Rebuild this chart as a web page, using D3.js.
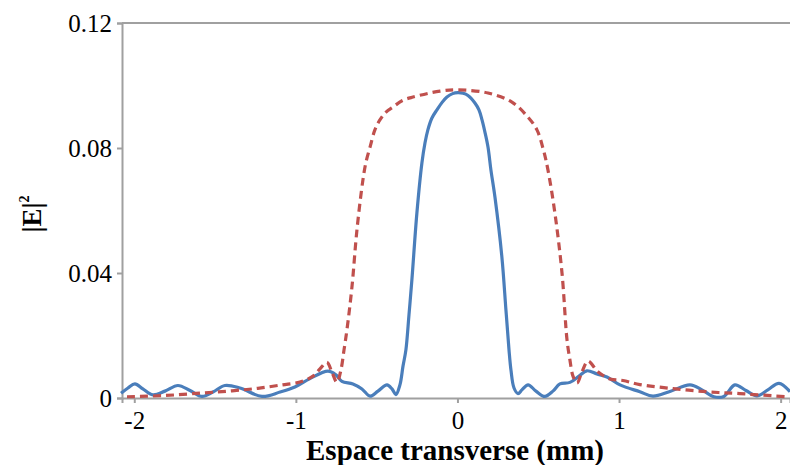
<!DOCTYPE html>
<html>
<head>
<meta charset="utf-8">
<script src="https://cdn.jsdelivr.net/npm/d3@7/dist/d3.min.js"></script>
<style>
  html, body { margin: 0; padding: 0; background: #fff; }
  svg { display: block; }
  text { font-family: "Liberation Serif", "Times New Roman", serif; fill: #000; }
</style>
</head>
<body>
<svg id="chart" width="790" height="465"></svg>
<script>
// ---- data ----
const xTicks = [-2, -1, 0, 1, 2];
const yTicks = [0, 0.04, 0.08, 0.12];
const yTickLabels = ["0", "0.04", "0.08", "0.12"];

// solid blue series: [x (mm), |E|^2]
const blueX = [-2.082, -2.039, -1.996, -1.947, -1.885, -1.810, -1.730, -1.655, -1.581, -1.513,
  -1.439, -1.346, -1.210, -1.098, -1.006, -0.913, -0.801, -0.752, -0.715, -0.647,
  -0.591, -0.541, -0.492, -0.436, -0.405, -0.381, -0.356, -0.337, -0.319, -0.300,
  -0.282, -0.251, -0.220, -0.201, -0.183, -0.158, -0.127, -0.095, -0.065, -0.030, 0.003,
  0.035, 0.065, 0.108, 0.133, 0.152, 0.170,
  0.189, 0.207, 0.232, 0.275, 0.300, 0.319, 0.331, 0.350, 0.375, 0.399, 0.437,
  0.486, 0.541, 0.591, 0.634, 0.696, 0.752, 0.801, 0.863, 0.925, 1.006,
  1.129, 1.210, 1.315, 1.439, 1.513, 1.587, 1.649, 1.717, 1.785, 1.853,
  1.921, 1.990, 2.058];
const blueY = [0.0015, 0.0032, 0.0045, 0.0029, 0.0010, 0.0022, 0.0040, 0.0024, 0.0005, 0.0019,
  0.0040, 0.0032, 0.0005, 0.0019, 0.0035, 0.0062, 0.0086, 0.0074, 0.0053, 0.0045,
  0.0029, 0.0006, 0.0022, 0.0042, 0.0029, 0.0011, 0.0042, 0.0102, 0.0154, 0.0266,
  0.0378, 0.0592, 0.0752, 0.0816, 0.0858, 0.0896, 0.0922, 0.0946, 0.0963, 0.0974, 0.0977,
  0.0975, 0.0968, 0.0944, 0.0922, 0.0890, 0.0851,
  0.0803, 0.0730, 0.0643, 0.0451, 0.0282, 0.0154, 0.0090, 0.0032, 0.0014, 0.0026, 0.0042,
  0.0022, 0.0005, 0.0022, 0.0045, 0.0050, 0.0070, 0.0087, 0.0077, 0.0067, 0.0042,
  0.0020, 0.0006, 0.0021, 0.0042, 0.0026, 0.0004, 0.0005, 0.0042, 0.0024, 0.0007,
  0.0026, 0.0047, 0.0020];

// dashed red series
const redX = [-2.045, -1.810, -1.581, -1.395, -1.235, -1.086, -0.975, -0.894, -0.851, -0.808,
  -0.777, -0.746, -0.721, -0.702, -0.684, -0.653, -0.622, -0.585, -0.566, -0.541, -0.511,
  -0.480, -0.442, -0.399, -0.340, -0.275, -0.108, 0.003, 0.189, 0.337, 0.436, 0.492, 0.532,
  0.560, 0.603, 0.647, 0.678, 0.696, 0.715, 0.740, 0.770, 0.808, 0.869, 0.944, 1.024,
  1.129, 1.334, 1.544, 1.748, 2.039];
const redY = [0.0004, 0.0008, 0.0016, 0.0023, 0.0031, 0.0042, 0.0051, 0.0070, 0.0093, 0.0114,
  0.0083, 0.0050, 0.0090, 0.0154, 0.0218, 0.0355, 0.0538, 0.0698, 0.0755, 0.0803, 0.0858,
  0.0890, 0.0915, 0.0931, 0.0952, 0.0963, 0.0982, 0.0986, 0.0976, 0.0947, 0.0899, 0.0858, 0.0794,
  0.0730, 0.0592, 0.0400, 0.0186, 0.0122, 0.0070, 0.0048, 0.0083, 0.0118, 0.0084, 0.0061, 0.0056,
  0.0043, 0.0030, 0.0020, 0.0014, 0.0004];

const xTitle = "Espace transverse (mm)";

// ---- layout ----
const svg = d3.select("#chart");
const mLeft = 122, mRight = 790, mTop = 23, mBottom = 398;
const x = d3.scaleLinear().domain([-2.076, 2.058]).range([mLeft, mRight]);
const y = d3.scaleLinear().domain([0, 0.12]).range([mBottom, mTop]);
const axisColor = "#a0a0a0";

// top border line
svg.append("line")
  .attr("x1", mLeft).attr("x2", mRight).attr("y1", y(0.12)).attr("y2", y(0.12))
  .attr("stroke", axisColor).attr("stroke-width", 2);

// y axis
const yAxis = svg.append("g").attr("transform", `translate(${mLeft},0)`)
  .call(d3.axisLeft(y).tickValues(yTicks).tickSize(5).tickPadding(5)
    .tickFormat((d, i) => yTickLabels[i]));
yAxis.select(".domain").attr("stroke", axisColor).attr("stroke-width", 2);
yAxis.selectAll(".tick line").attr("stroke", axisColor).attr("stroke-width", 2);
yAxis.selectAll(".tick text").attr("font-size", 25).attr("font-family", "Liberation Serif").attr("fill", "#000");

// x axis
const xAxis = svg.append("g").attr("transform", `translate(0,${mBottom})`)
  .call(d3.axisBottom(x).tickValues(xTicks).tickSize(5).tickPadding(8)
    .tickFormat(d => d < 0 ? "-" + Math.abs(d) : String(d)));
xAxis.select(".domain").attr("stroke", axisColor).attr("stroke-width", 2);
xAxis.selectAll(".tick line").attr("stroke", axisColor).attr("stroke-width", 2);
xAxis.selectAll(".tick text").attr("font-size", 25).attr("font-family", "Liberation Serif").attr("fill", "#000");

// lines
const lineGen = d3.line().x(d => x(d[0])).y(d => y(d[1])).curve(d3.curveCatmullRom.alpha(0.5));
const plot = svg.append("g");
plot.append("path")
  .datum(blueX.map((v, i) => [v, blueY[i]]))
  .attr("d", lineGen).attr("fill", "none")
  .attr("stroke", "#4a7ebb").attr("stroke-width", 3.2).attr("stroke-linejoin", "round");
plot.append("path")
  .datum(redX.map((v, i) => [v, redY[i]]))
  .attr("d", lineGen).attr("fill", "none")
  .attr("stroke", "#c0504d").attr("stroke-width", 3.2).attr("stroke-dasharray", "8,5");

// titles
svg.append("text")
  .attr("x", 455).attr("y", 460).attr("text-anchor", "middle")
  .attr("font-size", 29).attr("font-weight", "bold").text(xTitle);

const yt = svg.append("text")
  .attr("transform", "translate(41,214) rotate(-90)")
  .attr("text-anchor", "middle").attr("font-size", 27).attr("font-weight", "bold");
yt.append("tspan").text("|E|");
yt.append("tspan").attr("font-size", 14).attr("dy", -12).text("2");
</script>
</body>
</html>
